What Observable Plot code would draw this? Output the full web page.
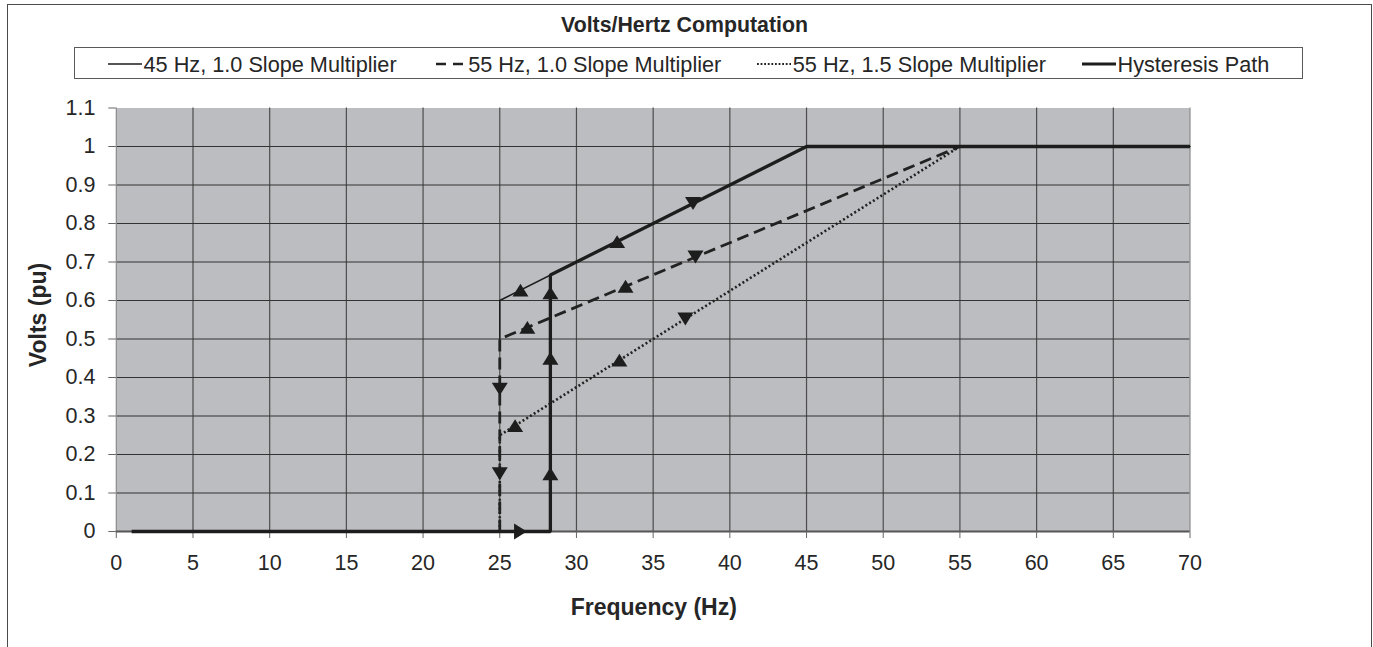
<!DOCTYPE html>
<html><head><meta charset="utf-8">
<script src="https://cdn.jsdelivr.net/npm/d3@7"></script>
<script src="https://cdn.jsdelivr.net/npm/@observablehq/plot@0.6"></script>
<style>
 body{margin:0;background:#fff;}
 #wrap{position:relative;width:1373px;height:647px;overflow:hidden;font-family:"Liberation Sans",Arial,sans-serif;color:#262626;}
 #frame{position:absolute;left:7px;top:4px;width:1365px;height:700px;border:1px solid #4a4a4a;box-sizing:border-box;}
 #title{position:absolute;left:0;width:1369px;top:15.3px;text-align:center;font-weight:bold;font-size:21.3px;line-height:1;}
 #legendbox{position:absolute;left:74px;top:47.3px;width:1229px;height:32px;border:1px solid #5a5a5a;box-sizing:border-box;}
 #legend{position:absolute;left:108px;top:53.6px;display:flex;align-items:center;font-size:21.7px;line-height:1;white-space:nowrap;}
 .item{display:flex;align-items:center;margin-right:36px;}
 .item svg{display:block;margin-right:1.5px;}
 #chart{position:absolute;left:0;top:90px;}
 .axt{position:absolute;font-weight:bold;font-size:23px;line-height:1;white-space:nowrap;}
 #ylab{left:37.8px;top:315px;transform:translate(-50%,-50%) rotate(-90deg);}
 #xlab{left:653.8px;top:595.5px;transform:translateX(-50%);}
</style></head>
<body>
<div id="wrap">
  <div id="frame"></div>
  <div id="title">Volts/Hertz Computation</div>
  <div id="legendbox"></div>
  <div id="legend"></div>
  <div id="chart"></div>
  <div id="ylab" class="axt">Volts (pu)</div>
  <div id="xlab" class="axt">Frequency (Hz)</div>
</div>
<script>
// ---- data ----
const xTicks = [0, 5, 10, 15, 20, 25, 30, 35, 40, 45, 50, 55, 60, 65, 70];
const yTicks = [0, 0.1, 0.2, 0.3, 0.4, 0.5, 0.6, 0.7, 0.8, 0.9, 1.0, 1.1];
const yTickLabels = ["0", "0.1", "0.2", "0.3", "0.4", "0.5", "0.6", "0.7", "0.8", "0.9", "1", "1.1"];
const xGrid = [5, 10, 15, 20, 25, 30, 35, 40, 45, 50, 55, 60, 65];
const yGrid = [0.1, 0.2, 0.3, 0.4, 0.5, 0.6, 0.7, 0.8, 0.9, 1.0];

const seriesNames = ["45 Hz, 1.0 Slope Multiplier", "55 Hz, 1.0 Slope Multiplier", "55 Hz, 1.5 Slope Multiplier", "Hysteresis Path"];

const hz45F = [25, 25, 45, 70];
const hz45V = [0.5, 0.6, 1.0, 1.0];
const hz55F = [25, 25, 55];
const hz55V = [0, 0.5, 1.0];
const hz55sF = [25, 25, 55];
const hz55sV = [0, 0.25, 1.0];
const hystF = [1, 28.3, 28.3, 45, 70];
const hystV = [0, 0, 0.666, 1.0, 1.0];

const upF = [26.35, 32.65, 28.3, 28.3, 28.3, 26.8, 33.2, 26.0, 32.8];
const upV = [0.627, 0.753, 0.62, 0.45, 0.15, 0.53, 0.637, 0.275, 0.445];
const downF = [37.6, 37.76, 37.1, 25, 25];
const downV = [0.852, 0.713, 0.552, 0.37, 0.15];
const rightF = [26.35];
const rightV = [0];

// ---- build ----
const pts = (F, V) => F.map((f, i) => ({f, v: V[i]}));
function tri(dir) {
  return {draw(ctx, size) {
    const r = Math.sqrt(size / Math.PI), hw = r, hh = r * 0.8;
    if (dir === "up") { ctx.moveTo(0, -hh); ctx.lineTo(hw, hh); ctx.lineTo(-hw, hh); }
    else if (dir === "down") { ctx.moveTo(0, hh); ctx.lineTo(hw, -hh); ctx.lineTo(-hw, -hh); }
    else { ctx.moveTo(hh, 0); ctx.lineTo(-hh, hw); ctx.lineTo(-hh, -hw); }
    ctx.closePath();
  }};
}
const ink = "#1d1d1d";
const lineStyles = [
  {stroke: ink, strokeWidth: 1.5},
  {stroke: "#222", strokeWidth: 2.8, strokeDasharray: "12,6", strokeLinecap: "butt"},
  {stroke: "#222", strokeWidth: 2.6, strokeDasharray: "2,2.4", strokeLinecap: "butt"},
  {stroke: ink, strokeWidth: 3.3, strokeLinejoin: "miter", strokeLinecap: "butt"}
];

const chart = Plot.plot({
  width: 1373, height: 557,
  marginLeft: 115.8, marginRight: 183.5, marginTop: 17.5, marginBottom: 116,
  x: {domain: [0, 70], label: null},
  y: {domain: [0, 1.1], label: null},
  style: {fontFamily: '"Liberation Sans", Arial, sans-serif', fontSize: "21.5px", color: "#262626", background: "none", overflow: "visible"},
  marks: [
    Plot.frame({fill: "#bcbdc1", stroke: "none"}),
    Plot.ruleX(xGrid, {stroke: "#4d4d4d", strokeWidth: 1.2}),
    Plot.ruleY(yGrid, {stroke: "#333", strokeWidth: 1.1}),
    Plot.ruleX([0, 70], {stroke: "#8a8a8a", strokeWidth: 1.2}),
    Plot.ruleY([0], {stroke: "#555", strokeWidth: 1.8}),
    Plot.axisX({ticks: xTicks, tickSize: 7, tickPadding: 16.3, stroke: "#666", fill: "#262626", label: null, tickFormat: d => String(d)}),
    Plot.axisY({ticks: yTicks, tickSize: 7.5, tickPadding: 13.3, stroke: "#666", fill: "#262626", label: null, tickFormat: d => yTickLabels[yTicks.indexOf(d)]}),
    Plot.line(pts(hz45F, hz45V), {x: "f", y: "v", ...lineStyles[0]}),
    Plot.line(pts(hz55F, hz55V), {x: "f", y: "v", ...lineStyles[1]}),
    Plot.line(pts(hz55sF, hz55sV), {x: "f", y: "v", ...lineStyles[2]}),
    Plot.line(pts(hystF, hystV), {x: "f", y: "v", ...lineStyles[3]}),
    Plot.dot(pts(upF, upV), {x: "f", y: "v", symbol: tri("up"), r: 8, fill: ink, stroke: "none"}),
    Plot.dot(pts(downF, downV), {x: "f", y: "v", symbol: tri("down"), r: 8, fill: ink, stroke: "none"}),
    Plot.dot(pts(rightF, rightV), {x: "f", y: "v", symbol: tri("right"), r: 8, fill: ink, stroke: "none"})
  ]
});
document.getElementById("chart").appendChild(chart);

// legend
const legend = document.getElementById("legend");
seriesNames.forEach((name, i) => {
  const s = lineStyles[i];
  const item = document.createElement("span");
  item.className = "item";
  const dash = i === 1 ? ' stroke-dasharray="10,7"' : (i === 2 ? ' stroke-dasharray="1.8,1.8"' : "");
  const x1 = i === 1 ? 3 : 0;
  const sw = i === 0 ? 1.3 : (i === 3 ? 3 : (i === 1 ? 2.4 : 1.8));
  item.innerHTML = `<svg width="34" height="10"><line x1="${x1}" x2="34" y1="5" y2="5" stroke="${s.stroke}" stroke-width="${sw}"${dash}/></svg><span>${name}</span>`;
  if (i === seriesNames.length - 1) item.style.marginRight = "0";
  legend.appendChild(item);
});
</script>
</body></html>
